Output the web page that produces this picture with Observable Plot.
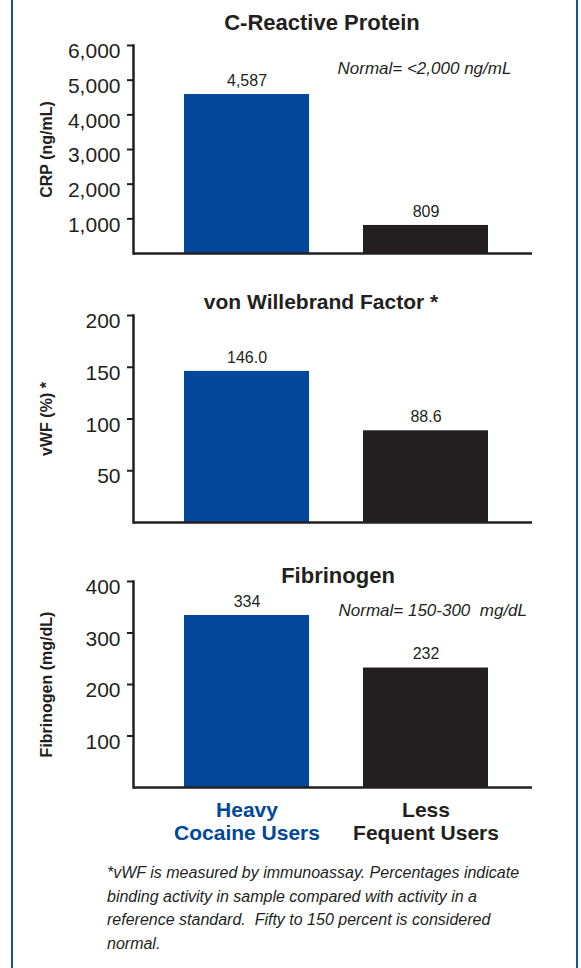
<!DOCTYPE html>
<html>
<head>
<meta charset="utf-8">
<script src="https://cdn.jsdelivr.net/npm/d3@7"></script>
<script src="https://cdn.jsdelivr.net/npm/@observablehq/plot@0.6"></script>
<style>
  body { margin: 0; background: #fff; }
  #wrap { position: relative; width: 581px; height: 968px; overflow: hidden; background: #fff;
          font-family: "Liberation Sans", Arial, sans-serif; color: #231f20; }
  #border { position: absolute; left: 11px; top: -10px; width: 563px; height: 1000px;
            border-left: 2px solid #1a52a3; border-right: 2px solid #1a52a3; }
  .chart { position: absolute; left: 0; display: block; }
  #foot { position: absolute; left: 107px; top: 861px; font-size: 16px; line-height: 23.5px;
          font-style: italic; white-space: pre; color: #231f20; }
</style>
</head>
<body>
<div id="wrap"><div id="border"></div></div>
<script>
const categories = ["Heavy\nCocaine Users", "Less\nFequent Users"];
const groupColors = ["#03479a", "#231f20"];
const crpValues = [4587, 809];
const vwfValues = [146.0, 88.6];
const fibValues = [334, 232];
const crpTicks = [1000, 2000, 3000, 4000, 5000, 6000];
const vwfTicks = [50, 100, 150, 200];
const fibTicks = [100, 200, 300, 400];
const titles = ["C-Reactive Protein", "von Willebrand Factor *", "Fibrinogen"];
const yLabels = ["CRP (ng/mL)", "vWF (%) *", "Fibrinogen (mg/dL)"];
const notes = ["Normal= <2,000 ng/mL", null, "Normal= 150-300\u00a0 mg/dL"];
const footnote = "*vWF is measured by immunoassay. Percentages indicate\nbinding activity in sample compared with activity in a\nreference standard.\u00a0 Fifty to 150 percent is considered\nnormal.";

const INK = "#231f20";
const FONT = "Liberation Sans, Arial, sans-serif";

function chart(cfg) {
  const data = categories.map((c, i) => ({cat: c, value: cfg.values[i]}));
  const ymax = cfg.ticks[cfg.ticks.length - 1];
  const marks = [
    Plot.barY(data, {x: "cat", y: "value", fill: "cat"}),
    Plot.frame({anchor: "left", stroke: INK, strokeWidth: 2.5}),
    Plot.ruleY([0], {stroke: INK, strokeWidth: 2.5}),
    Plot.axisY({ticks: cfg.ticks, tickSize: 6, tickFormat: () => "", stroke: INK, strokeWidth: 2, label: null}),
    Plot.text(cfg.ticks, {y: d => d, text: d => cfg.tickFmt(d), frameAnchor: "left", textAnchor: "end",
      lineAnchor: "middle", dx: -13, dy: 6, fontSize: 21, fill: INK}),
    Plot.text(data, {x: "cat", y: "value", text: d => cfg.fmt(d.value), dy: -14, fontSize: 16, fill: INK}),
    Plot.text([cfg.title], {frameAnchor: "top", textAnchor: "middle", lineAnchor: "middle",
      dx: cfg.titleDx, dy: cfg.titleDy, fontSize: cfg.titleSize, fontWeight: "bold", fill: INK}),
    Plot.text([cfg.ylabel], {frameAnchor: "left", textAnchor: "middle", lineAnchor: "middle",
      dx: -87, rotate: -90, fontSize: 16, fontWeight: "bold", fill: INK})
  ];
  if (cfg.note) {
    marks.push(Plot.text([cfg.note], {frameAnchor: "top", textAnchor: "start", lineAnchor: "middle",
      dx: cfg.noteDx, dy: cfg.noteDy, fontSize: 17, fontStyle: "italic", fill: INK}));
  }
  if (cfg.showCategories) {
    marks.push(Plot.text(categories, {x: d => d, text: d => d, fill: d => d, frameAnchor: "bottom",
      lineAnchor: "top", dy: 12, fontSize: 21, fontWeight: "bold", lineHeight: 1.14}));
  }
  const svg = Plot.plot({
    width: 581,
    height: cfg.height,
    marginLeft: 133,
    marginRight: 49,
    marginTop: cfg.marginTop,
    marginBottom: cfg.marginBottom,
    style: {fontFamily: FONT, background: "transparent", color: INK, overflow: "visible"},
    x: {domain: categories, paddingInner: 0.304, paddingOuter: 0.263, align: 0.534, axis: null},
    y: {domain: [0, ymax], label: null},
    color: {domain: categories, range: groupColors},
    marks
  });
  svg.classList.add("chart");
  svg.style.top = cfg.top + "px";
  document.getElementById("wrap").appendChild(svg);
}

chart({values: crpValues, ticks: crpTicks, tickFmt: d3.format(","), fmt: d3.format(","),
  title: titles[0], titleSize: 22, titleDx: -11, titleDy: -23, ylabel: yLabels[0],
  note: notes[0], noteDx: 4.5, noteDy: 23,
  top: 0, height: 280, marginTop: 45, marginBottom: 27});

chart({values: vwfValues, ticks: vwfTicks, tickFmt: d3.format("d"), fmt: d3.format(".1f"),
  title: titles[1], titleSize: 21, titleDx: -12, titleDy: -13, ylabel: yLabels[1],
  note: notes[1],
  top: 280, height: 270, marginTop: 35, marginBottom: 28});

chart({values: fibValues, ticks: fibTicks, tickFmt: d3.format("d"), fmt: d3.format("d"),
  title: titles[2], titleSize: 22, titleDx: 5, titleDy: -6, ylabel: yLabels[2],
  note: notes[2], noteDx: 5.5, noteDy: 29,
  top: 550, height: 300, marginTop: 31, marginBottom: 63, showCategories: true});

const foot = document.createElement("div");
foot.id = "foot";
foot.textContent = footnote;
document.getElementById("wrap").appendChild(foot);
</script>
</body>
</html>
